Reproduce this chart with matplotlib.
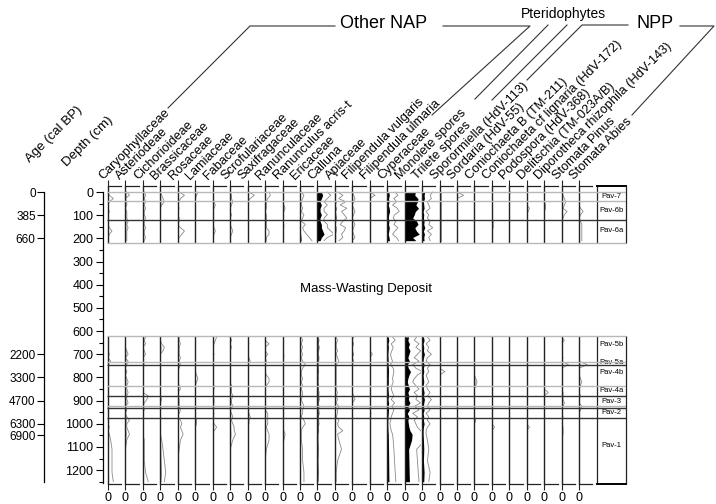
"""
Pollen / NPP percentage diagram with depth and age axes, zone column and group headers
"""

import matplotlib
matplotlib.use('Agg')
import matplotlib.pyplot as plt
from matplotlib.lines import Line2D
import numpy as np

plt.rcParams.update({
    'font.family': ['Liberation Sans', 'DejaVu Sans'],
})

# ── data ─────────────────────────────────────────────────────
depth_top = [0, 14, 28, 42, 56, 70, 84, 98, 112, 126, 140, 154, 168, 182, 196, 210]
depth_bot = [625, 640, 655, 670, 685, 700, 715, 730, 745, 760, 775, 790, 805, 820,
             835, 850, 865, 880, 895, 910, 925, 940, 955, 970, 985, 1000, 1015, 1030,
             1045, 1070, 1110, 1160, 1210, 1250]

taxa = ['Caryophyllaceae', 'Asteriodeae', 'Cichorioideae', 'Brassicaceae', 'Rosaceae',
        'Lamiaceae', 'Fabaceae', 'Scrofulariaceae', 'Saxifragaceae', 'Ranunculaceae',
        'Ranunculus acris-t', 'Ericaceae', 'Calluna', 'Apiaceae', 'Filipendula vulgaris',
        'Filipendula ulmaria', 'Cyperaceae', 'Monolete spores', 'Trilete spores',
        'Sporormiella (HdV-113)', 'Sordaria (HdV-55)', 'Coniochaeta B (TM-211)',
        'Coniochaeta cf lignaria (HdV-172)', 'Podospora (HdV-368)',
        'Delitschia (TM-023A/B)', 'Diporotheca rhizophila (HdV-143)',
        'Stomata Pinus', 'Stomata Abies']

# percentages: first 16 values -> depth_top, remaining 34 -> depth_bot
caryophyllaceae = [0, 0.1, 0.4, 0.1, 0, 0, 0.1, 0, 0, 0, 0, 0.1, 0.3, 0.1, 0, 0,
                   0, 0, 0, 0, 0, 0.1, 0, 0.2, 0, 0, 0, 0, 0, 0, 0, 0, 0, 0, 0, 0,
                   0, 0, 0, 0, 0, 0, 0.1, 0, 0.1, 0.2, 0.3, 0.3, 0.3, 0.4]
asteriodeae = [0.1, 0.3, 0, 0.1, 0.1, 0, 0.1, 0.1, 0.1, 0.2, 0.1, 0.2, 0.1, 0.1, 0.1, 0.1,
               0, 0, 0, 0, 0.1, 0.2, 0, 0.2, 0.1, 0, 0.1, 0, 0.1, 0.2, 0.1, 0.1, 0.2, 0.1, 0.1, 0.2,
               0, 0.1, 0, 0.1, 0.3, 0.1, 0.1, 0.2, 0.3, 0.1, 0, 0, 0, 0]
cichorioideae = [0.1, 0.2, 0.1, 0.2, 0.1, 0.2, 0.1, 0.1, 0.2, 0.1, 0.1, 0.2, 0.1, 0.1, 0.2, 0.1,
                 0.2, 0.1, 0.2, 0, 0.1, 0.2, 0, 0, 0.1, 0, 0, 0, 0, 0, 0, 0, 0, 0.4, 0.3, 0.1,
                 0, 0.1, 0, 0, 0, 0, 0, 0, 0, 0.1, 0.1, 0.1, 0.2, 0.4]
brassicaceae = [0, 0.1, 0.2, 0.3, 0.1, 0, 0, 0, 0, 0, 0, 0, 0, 0, 0, 0,
                0, 0, 0.1, 0.3, 0.2, 0, 0, 0, 0, 0, 0, 0, 0, 0, 0, 0, 0, 0, 0.1, 0,
                0, 0, 0, 0, 0, 0, 0, 0, 0, 0.1, 0.2, 0.3, 0.4, 0.3]
rosaceae = [0.1, 0.5, 0.2, 0.1, 0, 0.1, 0, 0, 0.1, 0.1, 0, 0.2, 0.5, 0.3, 0.1, 0,
            0.1, 0.1, 0.2, 0.1, 0.1, 0.1, 0.2, 0.1, 0.2, 0.1, 0, 0, 0, 0, 0.1, 0.2, 0, 0, 0.1, 0.1,
            0.1, 0.2, 0.1, 0, 0.2, 0.3, 0.2, 0.3, 0.4, 0.2, 0.1, 0, 0, 0]
lamiaceae = [0.2, 0.1, 0, 0, 0, 0, 0, 0, 0, 0, 0, 0, 0, 0, 0, 0,
             0, 0, 0, 0, 0, 0, 0, 0, 0, 0, 0, 0.1, 0.2, 0.1, 0, 0, 0, 0, 0, 0,
             0, 0, 0, 0, 0.1, 0.1, 0, 0, 0, 0, 0, 0, 0, 0]
fabaceae = [0, 0, 0, 0.1, 0.2, 0.1, 0, 0, 0, 0, 0, 0.1, 0.2, 0.1, 0, 0,
            0.3, 0.2, 0.1, 0, 0, 0.1, 0, 0, 0, 0, 0, 0, 0, 0, 0.1, 0.1, 0, 0, 0.1, 0.1,
            0, 0, 0.1, 0, 0, 0.1, 0.3, 0.1, 0, 0, 0, 0, 0, 0]
scrofulariaceae = [0, 0.1, 0.1, 0.2, 0.1, 0, 0, 0.1, 0, 0, 0, 0.1, 0.2, 0.1, 0, 0,
                   0, 0.1, 0, 0.1, 0, 0, 0, 0, 0, 0, 0, 0, 0, 0, 0.1, 0.1, 0.1, 0.2, 0.1, 0.1,
                   0.2, 0, 0.1, 0.2, 0.1, 0.2, 0.3, 0.3, 0.4, 0.2, 0, 0, 0, 0]
saxifragaceae = [0.1, 0.5, 0.2, 0, 0, 0, 0, 0, 0, 0, 0, 0, 0, 0, 0, 0,
                 0, 0, 0.1, 0, 0, 0, 0.1, 0.2, 0, 0, 0, 0, 0, 0, 0, 0, 0, 0, 0, 0,
                 0, 0, 0.1, 0.2, 0.1, 0.1, 0, 0, 0, 0, 0, 0, 0, 0]
ranunculaceae = [0.3, 0.4, 0.2, 0.1, 0.1, 0.1, 0, 0.1, 0.1, 0.1, 0.1, 0.1, 0.3, 0.3, 0.1, 0.1,
                 0, 0, 0.3, 0, 0, 0.2, 0, 0.1, 0, 0, 0, 0.1, 0.3, 0.3, 0.1, 0, 0, 0, 0, 0,
                 0, 0, 0.2, 0.2, 0.2, 0.2, 0.1, 0.2, 0.3, 0.3, 0.1, 0, 0, 0]
ranunculus_acris = [0, 0, 0, 0, 0.1, 0.2, 0.1, 0, 0, 0, 0.1, 0.1, 0, 0, 0, 0,
                    0, 0, 0, 0, 0, 0.1, 0.1, 0, 0, 0, 0, 0, 0, 0, 0, 0, 0, 0, 0, 0,
                    0, 0, 0, 0, 0, 0, 0, 0.1, 0.2, 0.1, 0, 0, 0, 0]
ericaceae = [0.1, 0.3, 0.2, 0.1, 0.1, 0.2, 0.1, 0.3, 0.2, 0.1, 0.4, 0.2, 0.3, 0.5, 0.7, 0.9,
             0.1, 0.2, 0.1, 0.2, 0.1, 0.2, 0.1, 0.2, 0.4, 0.2, 0.1, 0.1, 0.2, 0.1, 0.2, 0.1, 0.2, 0.2, 0.1, 0.2,
             0.3, 0.2, 0.2, 0.1, 0.3, 0.4, 0.2, 0.1, 0.1, 0.1, 0.2, 0.2, 0.3, 0.3]
calluna = [3, 4, 3, 2, 3, 2, 2, 3, 2, 2, 3, 3, 4, 5, 3, 2,
           0.3, 0.5, 0.3, 0.6, 0.4, 0.3, 0.5, 0.4, 0.2, 0.3, 0.4, 0.2, 0.3, 0.2, 0.4, 0.3, 0.5, 0.4, 0.6, 0.3,
           0.5, 0.4, 0.6, 0.3, 0.4, 0.5, 0.3, 0.4, 0.2, 0.2, 0.3, 0.2, 0.3, 0.2]
apiaceae = [0.2, 0.6, 0.3, 0.8, 0.4, 0.9, 0.5, 0.7, 0.9, 0.6, 0.4, 0.8, 0.7, 0.5, 0.6, 0.3,
            0.1, 0.2, 0.1, 0.1, 0.2, 0.1, 0.2, 0.3, 0.1, 0.1, 0.1, 0.1, 0.1, 0.1, 0.1, 0.1, 0.2, 0.1, 0.2, 0.1,
            0.3, 0.2, 0.2, 0.1, 0.3, 0.2, 0.3, 0.6, 0.2, 0.3, 0.5, 0.2, 0.1, 0.1]
filipendula_vulgaris = [0, 0.1, 0.2, 0.1, 0, 0.1, 0.2, 0.1, 0, 0.1, 0.2, 0.1, 0, 0.1, 0.2, 0,
                        0.1, 0, 0.1, 0, 0, 0.1, 0, 0.1, 0, 0, 0, 0, 0, 0, 0, 0, 0, 0.1, 0.2, 0,
                        0, 0, 0, 0, 0, 0, 0, 0, 0, 0, 0, 0, 0, 0]
filipendula_ulmaria = [0, 0.4, 0, 0, 0, 0, 0, 0, 0, 0, 0, 0, 0, 0, 0, 0,
                       0, 0, 0, 0, 0, 0.2, 0, 0, 0, 0, 0, 0, 0, 0, 0, 0, 0, 0, 0, 0,
                       0, 0, 0.1, 0, 0, 0, 0, 0, 0, 0, 0, 0, 0, 0]
cyperaceae = [1.2, 1.6, 1.0, 1.4, 0.8, 1.5, 1.8, 1.1, 0.9, 1.3, 1.0, 1.6, 1.2, 0.8, 1.4, 1.7,
              0.8, 1.2, 0.6, 0.9, 0.7, 0.5, 0.6, 0.8, 0.5, 0.9, 1.0, 0.9, 0.8, 0.9, 0.7, 0.6, 0.8, 1.0, 0.6, 1.1,
              0.7, 1.0, 0.8, 0.6, 0.5, 0.4, 0.5, 0.6, 0.8, 0.9, 1.0, 1.1, 1.2, 1.3]
monolete = [40, 38, 50, 48, 42, 52, 40, 36, 30, 45, 50, 38, 44, 55, 30, 42,
            15, 12, 18, 14, 20, 16, 12, 18, 10, 14, 22, 16, 12, 10, 14, 18, 12, 16, 14, 20,
            12, 18, 10, 16, 12, 14, 16, 20, 28, 26, 15, 16, 17, 18]
trilete = [4, 3, 3.5, 2, 2.5, 3, 1.5, 2.5, 2, 3, 2.5, 4, 2, 3.5, 2.5, 3,
           2, 3, 1.5, 2.5, 2, 3.5, 2, 1.5, 3, 2, 2.5, 1.5, 2, 2.5, 1.5, 2, 3, 2, 3.5, 2.5,
           2, 3, 1.5, 2.5, 2, 3, 2, 1.5, 1.5, 2, 2.5, 2, 3, 2.5]
sporormiella = [0.1, 0.1, 0.1, 0.1, 0.1, 0.1, 0.1, 0.1, 0.1, 0.1, 0.1, 0.1, 0.1, 0.1, 0.1, 0.1,
                0.1, 0, 0, 0, 0, 0, 0, 0, 0, 0, 0.4, 0, 0, 0, 0, 0, 0, 0, 0, 0,
                0, 0, 0, 0, 0, 0, 0, 0, 0, 0, 0, 0, 0, 0]
sordaria = [0, 0.5, 0, 0, 0, 0, 0, 0, 0, 0, 0, 0, 0, 0, 0, 0,
            0, 0, 0, 0, 0, 0, 0, 0, 0, 0, 0, 0, 0, 0, 0, 0, 0, 0, 0, 0,
            0, 0, 0, 0, 0, 0, 0, 0, 0, 0, 0, 0, 0, 0]
coniochaeta_b = [0, 0, 0, 0, 0, 0, 0, 0, 0, 0, 0, 0, 0, 0, 0, 0,
                 0, 0, 0, 0, 0, 0, 0, 0, 0, 0, 0, 0, 0.1, 0.2, 0.1, 0, 0, 0, 0, 0,
                 0, 0, 0, 0, 0.1, 0, 0, 0, 0, 0, 0, 0, 0, 0]
coniochaeta_lignaria = [0, 0, 0, 0, 0, 0, 0, 0, 0, 0.1, 0.1, 0.1, 0, 0, 0, 0,
                        0, 0, 0, 0, 0, 0, 0, 0, 0, 0, 0, 0, 0, 0, 0, 0, 0, 0, 0, 0,
                        0, 0, 0, 0, 0, 0, 0.2, 0, 0, 0, 0, 0, 0, 0]
podospora = [0.1, 0, 0, 0, 0, 0, 0, 0, 0, 0, 0, 0, 0, 0, 0, 0,
             0, 0, 0, 0, 0, 0, 0, 0, 0, 0, 0, 0, 0, 0, 0, 0, 0, 0, 0, 0,
             0, 0, 0, 0, 0, 0, 0, 0, 0, 0, 0, 0, 0, 0]
delitschia = [0, 0, 0, 0, 0, 0.2, 0.1, 0, 0, 0, 0, 0, 0, 0, 0, 0,
              0, 0, 0, 0, 0, 0, 0, 0, 0, 0, 0, 0, 0, 0, 0, 0, 0, 0, 0, 0,
              0, 0, 0, 0, 0, 0, 0.2, 0, 0, 0, 0, 0, 0, 0]
diporotheca = [0, 0, 0, 0, 0.1, 0.1, 0, 0, 0, 0, 0, 0, 0, 0, 0, 0,
               0, 0, 0, 0, 0, 0, 0, 0, 0, 0, 0, 0, 0, 0, 0, 0, 0.3, 0, 0, 0,
               0, 0, 0, 0, 0, 0, 0, 0, 0, 0, 0, 0, 0, 0]
stomata_pinus = [0, 0.1, 0.2, 0.3, 0.2, 0.1, 0.4, 0.2, 0.1, 0, 0, 0, 0, 0, 0, 0,
                 0, 0.2, 0, 0, 0, 0, 0.1, 0, 0.5, 0, 0, 0, 0, 0, 0, 0, 0.1, 0.1, 0.1, 0.2,
                 0.1, 0, 0, 0.1, 0, 0, 0.1, 0.1, 0.1, 0, 0, 0, 0, 0]
stomata_abies = [0, 0, 0, 0, 0, 0.1, 0.3, 0.1, 0, 0.1, 0.2, 0.2, 0.2, 0.2, 0.2, 0.2,
                 0, 0, 0, 0, 0, 0, 0, 0, 0.6, 0, 0, 0, 0.1, 0.2, 0.1, 0, 0, 0.1, 0, 0,
                 0.2, 0.1, 0, 0, 0, 0, 0, 0, 0, 0, 0, 0, 0, 0]

series = [caryophyllaceae, asteriodeae, cichorioideae, brassicaceae, rosaceae, lamiaceae,
          fabaceae, scrofulariaceae, saxifragaceae, ranunculaceae, ranunculus_acris,
          ericaceae, calluna, apiaceae, filipendula_vulgaris, filipendula_ulmaria,
          cyperaceae, monolete, trilete, sporormiella, sordaria, coniochaeta_b,
          coniochaeta_lignaria, podospora, delitschia, diporotheca, stomata_pinus,
          stomata_abies]

# age model (tick depths -> ages)
age_depths = [0, 100, 200, 700, 800, 900, 1000, 1050]
age_labels = ['0', '385', '660', '2200', '3300', '4700', '6300', '6900']

# zones
zone_names = ['Pav-7', 'Pav-6b', 'Pav-6a', 'Pav-5b', 'Pav-5a', 'Pav-4b', 'Pav-4a',
              'Pav-3', 'Pav-2', 'Pav-1']
zone_mid = [21, 78, 168, 656, 734, 780, 855, 903, 950, 1092]
zone_minor = [0, 40, 220, 622, 734, 838, 925]     # light boundaries
zone_major = [120, 748, 880, 930, 975]            # dark boundaries

# ── scaling per panel (style) ────────────────────────────────
panel_max = [10] * len(taxa)
exag = [10] * len(taxa)
panel_max[12], exag[12] = 10, 2.5    # Calluna
panel_max[16], exag[16] = 10, 5      # Cyperaceae
panel_max[17], exag[17] = 50, 3      # Monolete
panel_max[18], exag[18] = 20, 4      # Trilete

# ── layout (pixels) ──────────────────────────────────────────
W, H = 716, 504
Y_TOP, Y_BOT = 186, 484
D_MIN, D_MAX = -26, 1260
SECTIONS = [(D_MIN, 220), (620, D_MAX)]
PANEL_X0, PANEL_DX, PANEL_W = 108, 17.45, 16
N_TOP = len(depth_top)
LINE_C = '#222222'
GRAY_C = '#8a8a8a'


def px_rect(x0, y0, x1, y1):
    return [x0 / W, 1 - y1 / H, (x1 - x0) / W, (y1 - y0) / H]


def fx(x):
    return x / W


def fy(y):
    return 1 - y / H


fig = plt.figure(figsize=(W / 100, H / 100), dpi=100)

# ── taxa panels ──────────────────────────────────────────────
d_top = np.array(depth_top, float)
d_bot = np.array(depth_bot, float)
for i, (name, vals) in enumerate(zip(taxa, series)):
    x0 = PANEL_X0 + i * PANEL_DX
    ax = fig.add_axes(px_rect(x0, Y_TOP, x0 + PANEL_W, Y_BOT))
    vmax = panel_max[i]
    ax.set_xlim(0, vmax * 1.2)
    ax.set_ylim(D_MAX, D_MIN)
    ax.patch.set_alpha(0)
    v = np.asarray(vals, float)
    for d, vv in ((d_top, v[:N_TOP]), (d_bot, v[N_TOP:])):
        ax.plot(vv * exag[i], d, color=GRAY_C, lw=0.6, zorder=2)
        ax.fill_betweenx(d, 0, vv, color='black', lw=0, zorder=3)
    for lo, hi in SECTIONS:
        ax.vlines(0, lo, hi, color=LINE_C, lw=1.0, clip_on=False, zorder=4)
    for s in ('left', 'right'):
        ax.spines[s].set_visible(False)
    for s in ('top', 'bottom'):
        ax.spines[s].set_bounds(0, vmax)
        ax.spines[s].set_linewidth(0.9)
        ax.spines[s].set_color(LINE_C)
    ax.set_yticks([])
    ax.set_xticks([0])
    ax.set_xticklabels(['0'])
    ax.tick_params(axis='x', top=True, bottom=True, labeltop=False, labelbottom=True,
                   direction='out', length=4, width=0.8, labelsize=9, pad=2,
                   color=LINE_C)
    fig.text(fx(x0 - 5), fy(180), name, rotation=45, rotation_mode='anchor',
             ha='left', va='baseline', fontsize=9.2)

# ── zone column ──────────────────────────────────────────────
axz = fig.add_axes(px_rect(597, Y_TOP, 626, Y_BOT))
axz.set_xlim(0, 1)
axz.set_ylim(D_MAX, D_MIN)
axz.patch.set_alpha(0)
axz.set_xticks([])
axz.set_yticks([])
for s in ('left', 'right'):
    axz.spines[s].set_visible(False)
for s in ('top', 'bottom'):
    axz.spines[s].set_linewidth(1.4)
for lo, hi in SECTIONS:
    axz.vlines([0, 1], lo, hi, color=LINE_C, lw=0.9, clip_on=False)
for name, d in zip(zone_names, zone_mid):
    axz.text(0.5, d, name, ha='center', va='center', fontsize=5.5)

# ── zone boundaries across all panels ────────────────────────
axh = fig.add_axes(px_rect(107, Y_TOP, 626, Y_BOT))
axh.set_xlim(0, 1)
axh.set_ylim(D_MAX, D_MIN)
axh.axis('off')
axh.hlines(zone_minor, 0, 1, color='#b8b8b8', lw=1.0)
axh.hlines(zone_major, 0, 1, color='#333333', lw=1.0)
axh.text(0.5, 420, 'Mass-Wasting Deposit', ha='center', va='center', fontsize=9.5)

# ── depth axis ───────────────────────────────────────────────
axd = fig.add_axes(px_rect(103, Y_TOP, 104, Y_BOT))
axd.set_ylim(D_MAX, D_MIN)
axd.patch.set_alpha(0)
axd.set_xticks([])
for s in ('top', 'bottom', 'right'):
    axd.spines[s].set_visible(False)
axd.spines['left'].set_bounds(0, 1255)
axd.spines['left'].set_linewidth(0.9)
axd.set_yticks(np.arange(0, 1201, 100))
axd.set_yticks(np.arange(50, 1251, 100), minor=True)
axd.tick_params(axis='y', which='major', length=5, width=0.8, labelsize=9, pad=2)
axd.tick_params(axis='y', which='minor', length=3, width=0.8)

# ── age axis ─────────────────────────────────────────────────
axa = fig.add_axes(px_rect(44, Y_TOP, 45, Y_BOT))
axa.set_ylim(D_MAX, D_MIN)
axa.patch.set_alpha(0)
axa.set_xticks([])
for s in ('top', 'bottom', 'right'):
    axa.spines[s].set_visible(False)
axa.spines['left'].set_bounds(0, 1250)
axa.spines['left'].set_linewidth(0.9)
axa.set_yticks(age_depths)
axa.set_yticklabels(age_labels)
axa.tick_params(axis='y', length=5, width=0.8, labelsize=8.5, pad=1)

fig.text(fx(30), fy(163), 'Age (cal BP)', rotation=45, rotation_mode='anchor',
         ha='left', va='baseline', fontsize=9.5)
fig.text(fx(67), fy(167), 'Depth (cm)', rotation=45, rotation_mode='anchor',
         ha='left', va='baseline', fontsize=9.5)

# ── group headers ────────────────────────────────────────────
fig.text(fx(384), fy(24), 'Other NAP', ha='center', va='center', fontsize=13)
fig.text(fx(563), fy(14), 'Pteridophytes', ha='center', va='center', fontsize=10)
fig.text(fx(655), fy(24), 'NPP', ha='center', va='center', fontsize=13)

leaders = [
    [(335, 26), (250, 26), (168, 108)],
    [(443, 26), (530, 26), (432, 115)],
    [(548, 25), (475, 99)],
    [(567, 25), (492, 100)],
    [(628, 25), (582, 25), (527, 80)],
    [(680, 26), (714, 26), (632, 115)],
]
for pts in leaders:
    xs = [fx(p[0]) for p in pts]
    ys = [fy(p[1]) for p in pts]
    fig.add_artist(Line2D(xs, ys, color='#333333', lw=0.8))

fig.savefig('out.png', dpi=100, facecolor='white')
plt.close(fig)
